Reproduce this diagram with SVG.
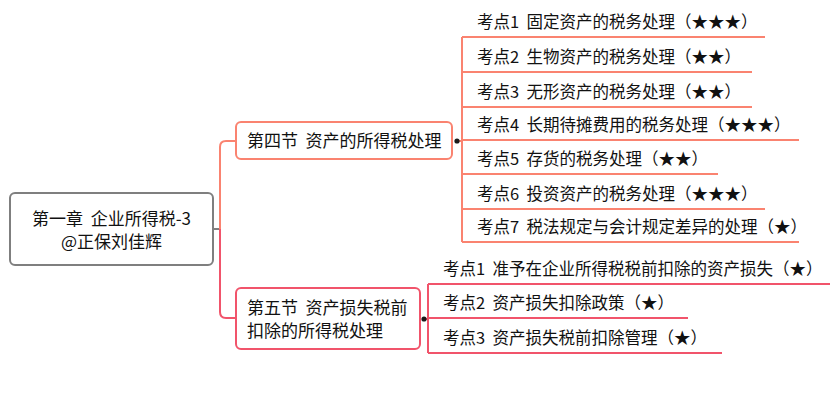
<svg xmlns="http://www.w3.org/2000/svg" width="834" height="404" viewBox="0 0 834 404">
<style>
text{font-family:"Noto Sans CJK SC","Microsoft YaHei",sans-serif;fill:#111;white-space:pre;}
.root{font-size:17px;}
.sec{font-size:17px;}
.item{font-size:16.5px;}
.o{stroke:#FA8370;fill:none;stroke-width:2;}
.r{stroke:#F1546B;fill:none;stroke-width:2;}
.g{stroke:#7F7F7F;fill:none;stroke-width:2;}
.dot{fill:#1a1a1a;}
</style>
<rect width="834" height="404" fill="#fff"/>
<g id="connectors">
<path class="g" d="M213 229 H220"/>
<path class="o" d="M220 229 V147 Q220 141 226 141 H236"/>
<path class="r" d="M220 229 V312 Q220 318 226 318 H236"/>
<path class="o" d="M457 141 H462"/>
<path class="o" d="M462 37 V242"/>
<path class="r" d="M424 319 H428"/>
<path class="r" d="M428 284 V353"/>
<circle class="dot" cx="457" cy="141" r="2.6"/>
<circle class="dot" cx="424" cy="319" r="2.6"/>
</g>
<g id="root">
<rect class="g" x="10" y="193" width="203" height="72" rx="5" fill="#fff"/>
<text class="root" x="111.5" y="225" text-anchor="middle" xml:space="preserve">第一章  企业所得税-3</text>
<text class="root" x="111.5" y="248" text-anchor="middle">@正保刘佳辉</text>
</g>
<g id="sec4">
<rect class="o" x="236" y="122" width="216" height="37" rx="5" fill="#fff"/>
<text class="sec" x="247" y="147" xml:space="preserve">第四节  资产的所得税处理</text>
</g>
<g id="s4i1"><path class="o" d="M462 37 H765"/><text class="item" x="477" y="28" xml:space="preserve">考点1  固定资产的税务处理（★★★）</text></g>
<g id="s4i2"><path class="o" d="M462 72 H752"/><text class="item" x="477" y="63" xml:space="preserve">考点2  生物资产的税务处理（★★）</text></g>
<g id="s4i3"><path class="o" d="M462 107 H752"/><text class="item" x="477" y="98" xml:space="preserve">考点3  无形资产的税务处理（★★）</text></g>
<g id="s4i4"><path class="o" d="M462 140 H799"/><text class="item" x="477" y="131" xml:space="preserve">考点4  长期待摊费用的税务处理（★★★）</text></g>
<g id="s4i5"><path class="o" d="M462 174 H718"/><text class="item" x="477" y="165" xml:space="preserve">考点5  存货的税务处理（★★）</text></g>
<g id="s4i6"><path class="o" d="M462 209 H765"/><text class="item" x="477" y="200" xml:space="preserve">考点6  投资资产的税务处理（★★★）</text></g>
<g id="s4i7"><path class="o" d="M462 242 H799"/><text class="item" x="477" y="233" xml:space="preserve">考点7  税法规定与会计规定差异的处理（★）</text></g>
<g id="sec5">
<rect class="r" x="236" y="288" width="184" height="61" rx="5" fill="#fff"/>
<text class="sec" x="247" y="314" xml:space="preserve">第五节  资产损失税前</text>
<text class="sec" x="247" y="337">扣除的所得税处理</text>
</g>
<g id="s5i1"><path class="r" d="M428 284 H830"/><text class="item" x="443" y="275" xml:space="preserve">考点1  准予在企业所得税税前扣除的资产损失（★）</text></g>
<g id="s5i2"><path class="r" d="M428 318 H688"/><text class="item" x="443" y="309" xml:space="preserve">考点2  资产损失扣除政策（★）</text></g>
<g id="s5i3"><path class="r" d="M428 353 H722"/><text class="item" x="443" y="344" xml:space="preserve">考点3  资产损失税前扣除管理（★）</text></g>
</svg>
